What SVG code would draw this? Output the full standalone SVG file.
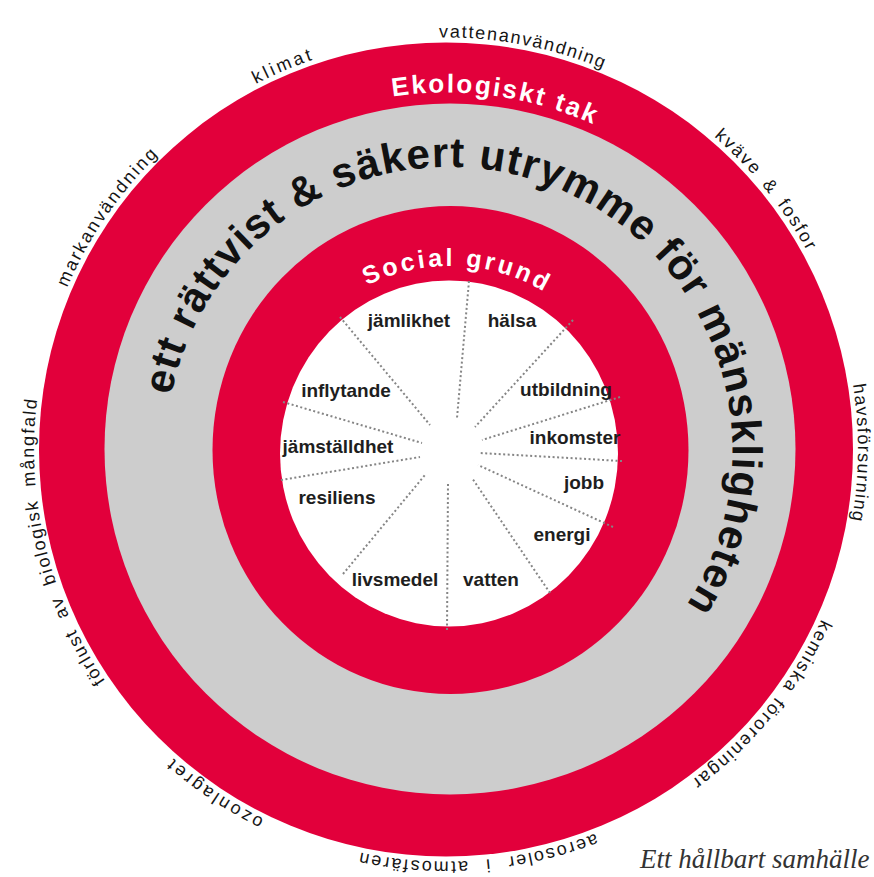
<svg xmlns="http://www.w3.org/2000/svg" width="874" height="877" viewBox="0 0 874 877">
<style>
.red{fill:#E2003B}
.gray{fill:#CDCDCD}
.white{fill:#FFFFFF}
.outer{font-family:"Liberation Sans",Arial,sans-serif;font-size:18px;fill:#151515;text-anchor:middle}
.inner{font-family:"Liberation Sans",Arial,sans-serif;font-size:19px;font-weight:bold;fill:#1e1e1e;text-anchor:middle}
.ring{font-family:"Liberation Sans",Arial,sans-serif;font-weight:bold;fill:#FFFFFF;text-anchor:middle}
.big{font-family:"Liberation Sans",Arial,sans-serif;font-size:42px;font-weight:bold;fill:#111;text-anchor:middle;letter-spacing:1.2px}
.dot{stroke:#858585;stroke-width:2;stroke-dasharray:2 2.5;fill:none}
.caption{font-family:"Liberation Serif","Times New Roman",serif;font-style:italic;font-size:27px;fill:#333}
</style>
<defs>
<path id="p-klimat" d="M 66.8 610.5 A 412 412 0 0 1 285.0 70.3 A 412 412 0 0 1 825.2 288.5"/>
<path id="p-vatten" d="M 41.3 372.3 A 412 412 0 0 1 523.2 44.8 A 412 412 0 0 1 850.7 526.7"/>
<path id="p-kvave" d="M 186.7 129.3 A 412 412 0 0 1 766.2 190.2 A 412 412 0 0 1 705.3 769.7"/>
<path id="p-havs" d="M 449.6 37.5 A 412 412 0 0 1 858.0 453.1 A 412 412 0 0 1 442.4 861.5"/>
<path id="p-kemi" d="M 705.3 129.3 A 412 412 0 0 1 766.2 708.8 A 412 412 0 0 1 186.7 769.7"/>
<path id="p-aero" d="M 856.7 417.2 A 412 412 0 0 1 478.3 860.2 A 412 412 0 0 1 35.3 481.8"/>
<path id="p-ozon" d="M 787.5 679.9 A 412 412 0 0 1 215.6 791.0 A 412 412 0 0 1 104.5 219.1"/>
<path id="p-forlust" d="M 542.2 850.1 A 412 412 0 0 1 45.4 545.7 A 412 412 0 0 1 349.8 48.9"/>
<path id="p-mark" d="M 212.6 789.0 A 412 412 0 0 1 106.5 216.1 A 412 412 0 0 1 679.4 110.0"/>
<path id="p-eko" d="M 92.5 399.8 A 357 357 0 0 1 495.7 96.0 A 357 357 0 0 1 799.5 499.2"/>
<path id="p-social" d="M 264.1 444.5 A 186 186 0 0 1 457.5 266.1 A 186 186 0 0 1 635.9 459.5"/>
<path id="p-big" d="M 170.8 502.2 A 283 283 0 0 1 559.6 189.5 A 283 283 0 0 1 611.3 682.3"/>
</defs>

<g id="ecological-ceiling">
<circle class="red" cx="446" cy="449.5" r="407"/>
<text class="ring" font-size="26" letter-spacing="2.2"><textPath href="#p-eko" startOffset="50%">Ekologiskt tak</textPath></text>
</g>
<g id="safe-space">
<circle class="gray" cx="450" cy="449" r="345.5"/>
<text class="big"><textPath href="#p-big" startOffset="50%">ett rättvist &amp; säkert utrymme för mänskligheten</textPath></text>
</g>
<g id="social-foundation">
<ellipse class="red" cx="450.5" cy="450" rx="238" ry="244"/>
<text class="ring" font-size="25" letter-spacing="3"><textPath href="#p-social" startOffset="50%">Social grund</textPath></text>
</g>
<g id="core">
<ellipse class="white" cx="449" cy="453.5" rx="169" ry="173"/>
</g>

<g id="connectors">
<line class="dot" x1="469" y1="281" x2="457" y2="418"/>
<line class="dot" x1="340" y1="317" x2="430" y2="425"/>
<line class="dot" x1="573" y1="320" x2="475" y2="427"/>
<line class="dot" x1="283" y1="402" x2="422" y2="443"/>
<line class="dot" x1="281" y1="480" x2="420" y2="457"/>
<line class="dot" x1="343" y1="574" x2="425" y2="475"/>
<line class="dot" x1="447" y1="630" x2="448" y2="483"/>
<line class="dot" x1="550" y1="593" x2="472" y2="478"/>
<line class="dot" x1="620" y1="397" x2="482" y2="440"/>
<line class="dot" x1="622" y1="461" x2="480" y2="453"/>
<line class="dot" x1="613" y1="527" x2="478" y2="465"/>
</g>

<g id="n-jamlikhet"><text class="inner" x="409" y="327">jämlikhet</text></g>
<g id="n-halsa"><text class="inner" x="512" y="327">hälsa</text></g>
<g id="n-inflytande"><text class="inner" x="346" y="397">inflytande</text></g>
<g id="n-utbildning"><text class="inner" x="566" y="396">utbildning</text></g>
<g id="n-jamstalldhet"><text class="inner" x="338" y="453">jämställdhet</text></g>
<g id="n-inkomster"><text class="inner" x="575" y="444">inkomster</text></g>
<g id="n-jobb"><text class="inner" x="584" y="489">jobb</text></g>
<g id="n-resiliens"><text class="inner" x="337" y="504">resiliens</text></g>
<g id="n-energi"><text class="inner" x="562" y="541">energi</text></g>
<g id="n-livsmedel"><text class="inner" x="395" y="586">livsmedel</text></g>
<g id="n-vatten"><text class="inner" x="491" y="586">vatten</text></g>

<g id="b-klimat"><text class="outer" letter-spacing="3"><textPath href="#p-klimat" startOffset="50%">klimat</textPath></text></g>
<g id="b-vattenanvandning"><text class="outer" letter-spacing="1.7"><textPath href="#p-vatten" startOffset="50%">vattenanvändning</textPath></text></g>
<g id="b-kvave"><text class="outer" letter-spacing="2" word-spacing="4"><textPath href="#p-kvave" startOffset="50%">kväve &amp; fosfor</textPath></text></g>
<g id="b-havsforsurning"><text class="outer" letter-spacing="1.4"><textPath href="#p-havs" startOffset="50%">havsförsurning</textPath></text></g>
<g id="b-kemiska"><text class="outer" letter-spacing="2" word-spacing="3"><textPath href="#p-kemi" startOffset="50%">kemiska föroreningar</textPath></text></g>
<g id="b-aerosoler"><text class="outer" letter-spacing="2" word-spacing="9"><textPath href="#p-aero" startOffset="50%">aerosoler i atmosfären</textPath></text></g>
<g id="b-ozonlagret"><text class="outer" letter-spacing="2.8"><textPath href="#p-ozon" startOffset="50%">ozonlagret</textPath></text></g>
<g id="b-forlust"><text class="outer" letter-spacing="1.8" word-spacing="6"><textPath href="#p-forlust" startOffset="50%">förlust av biologisk mångfald</textPath></text></g>
<g id="b-markanvandning"><text class="outer" letter-spacing="2.2"><textPath href="#p-mark" startOffset="50%">markanvändning</textPath></text></g>

<g id="caption"><text class="caption" x="640" y="868">Ett hållbart samhälle</text></g>
</svg>
